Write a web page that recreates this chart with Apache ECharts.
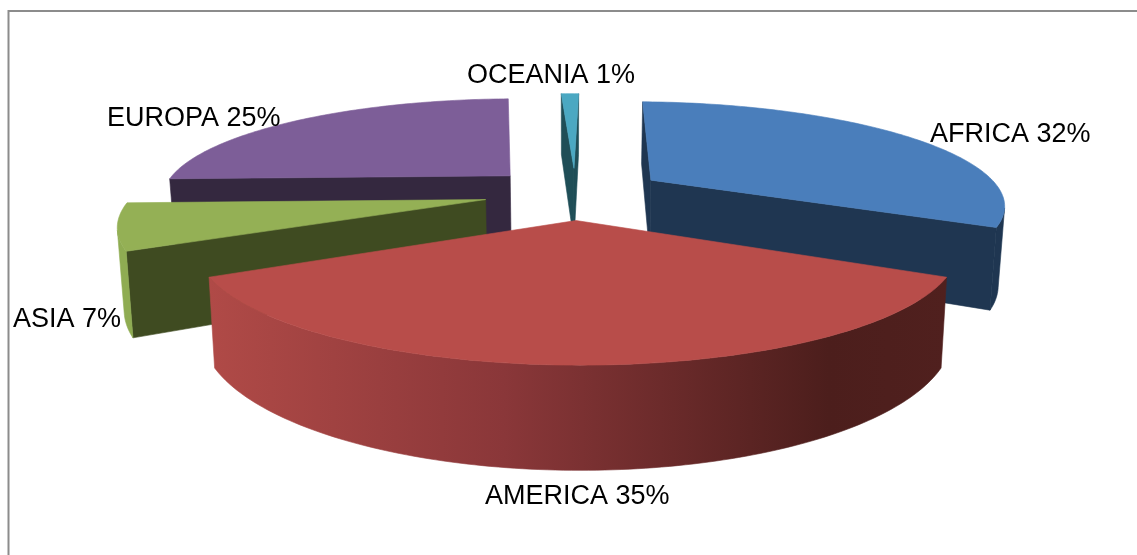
<!DOCTYPE html>
<html><head><meta charset="utf-8">
<style>html,body{margin:0;padding:0;background:#fff}#c{width:1137px;height:555px}</style>
<script src="https://cdn.jsdelivr.net/npm/echarts@6/dist/echarts.min.js"></script>
</head><body><div id="c"></div>
<script>
const categories = ['AFRICA','AMERICA','ASIA','EUROPA','OCEANIA'];
const seriesValues = [32,35,7,25,1];

const topColors  = ['#4A7EBB','#B84D4A','#94B055','#7D5E98','#4BA8C2'];
const sideColors = ['#1F3651','#4F201E','#3F4B21','#34283F','#1F4E57'];
const rimColors  = ['#1F3651',null,'#8FAC52','#34283F','#1F4E57'];
const paintOrder = [2,4,3,1,0]; // stacking rank per slice
const labelBoxes = [[930,135],[485,497],[13,320],[107,119],[467,76]];

const V = {cx:575, cy:193, a:351, b:100, D:4.7, e:0.26, h:77, k:0.985, rot:1.8*Math.PI/180, shear:4};
const total = seriesValues.reduce((p,c)=>p+c,0);
const starts = []; seriesValues.reduce((p,c,i)=>{starts[i]=p;return p+c;},0);

function project(X,Y,bottom){
  const s = V.D/(V.D-Y);
  const kx = bottom ? V.k : 1;
  return [V.cx + V.shear*Y + V.a*X*s*kx, V.cy + V.b*Y*s + (bottom?V.h*s:0)];
}
function rimPoint(t,off,b){return project(off[0]+Math.sin(t),off[1]-Math.cos(t),b);}
function faces(a,bp,c){ return (bp[0]-a[0])*(c[1]-a[1])-(bp[1]-a[1])*(c[0]-a[0]) < 0; }

function renderItem(params,api){
  const i = api.value(0), val = api.value(1);
  const t1 = V.rot+starts[i]/total*2*Math.PI, t2 = t1 + val/total*2*Math.PI, mid=(t1+t2)/2;
  const off = [V.e*Math.sin(mid), -V.e*Math.cos(mid)];
  const apexT = project(off[0],off[1],false), apexB = project(off[0],off[1],true);
  const n = Math.max(2,Math.ceil((t2-t1)/(Math.PI/180)));
  const T=[],B=[];
  for(let j=0;j<=n;j++){const t=t1+(t2-t1)*j/n;T.push(rimPoint(t,off,false));B.push(rimPoint(t,off,true));}
  const base = paintOrder[i]*10, kids=[];
  const wall=(pts,fill,z)=>kids.push({type:'polygon',z2:base+z,shape:{points:pts},style:{fill,stroke:fill,lineWidth:0.6}});
  if(faces(apexT,T[0],apexB)) wall([apexT,T[0],B[0],apexB],sideColors[i],1);
  if(faces(T[n],apexT,B[n])) wall([T[n],apexT,apexB,B[n]],sideColors[i],1);
  const vT=[],vB=[];
  for(let j=0;j<n;j++){ if(faces(T[j],T[j+1],B[j])){ if(!vT.length){vT.push(T[j]);vB.push(B[j]);} vT.push(T[j+1]);vB.push(B[j+1]); } }
  if(vT.length){
    let fill = rimColors[i];
    if(!fill){
      const xs=vT.map(p=>p[0]);
      fill = new echarts.graphic.LinearGradient(Math.min(...xs),0,Math.max(...xs),0,[
        {offset:0,color:'#B04A47'},{offset:0.4,color:'#8A3739'},{offset:0.84,color:'#4C1E1C'},{offset:1,color:'#50201E'}],true);
    }
    wall(vT.concat(vB.slice().reverse()),fill,2);
  }
  kids.push({type:'polygon',z2:base+3,shape:{points:[apexT].concat(T)},style:{fill:topColors[i],stroke:topColors[i],lineWidth:0.6}});
  const lb=labelBoxes[i];
  kids.push({type:'text',z2:100,x:lb[0],y:lb[1],style:{text:categories[i]+' '+val+'%',fill:'#000',
    font:'27px "Liberation Sans", Arial, sans-serif',align:'left',verticalAlign:'middle'}});
  return {type:'group',children:kids};
}

const chart = echarts.init(document.getElementById('c'),null,{renderer:'canvas'});
chart.setOption({
  animation:false,
  backgroundColor:'#fff',
  graphic:[{type:'polyline',z:-1,shape:{points:[[8.5,555],[8.5,11],[1137,11]]},style:{fill:null,stroke:'#8C8C8C',lineWidth:2}}],
  series:[{type:'custom',coordinateSystem:'none',renderItem,silent:true,
    data:categories.map((c,i)=>({name:c,value:[i,seriesValues[i]]}))}]
});
</script></body></html>
